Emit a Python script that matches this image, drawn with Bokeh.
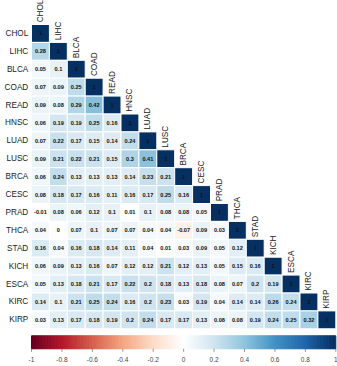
import numpy as np
from bokeh.plotting import figure
from bokeh.models import Range1d, ColumnDataSource
from bokeh.transform import linear_cmap
from bokeh.core.properties import value
from bokeh.embed import file_html
from bokeh.resources import INLINE

# Cancer types, in matrix order
labels = ["CHOL", "LIHC", "BLCA", "COAD", "READ", "HNSC", "LUAD", "LUSC",
          "BRCA", "CESC", "PRAD", "THCA", "STAD", "KICH", "ESCA", "KIRC", "KIRP"]

# Lower-triangle correlation rows (diagonal included)
r_chol = [1]
r_lihc = [0.28, 1]
r_blca = [0.05, 0.1, 1]
r_coad = [0.07, 0.09, 0.25, 1]
r_read = [0.09, 0.08, 0.29, 0.42, 1]
r_hnsc = [0.06, 0.19, 0.19, 0.25, 0.16, 1]
r_luad = [0.07, 0.22, 0.17, 0.15, 0.14, 0.24, 1]
r_lusc = [0.09, 0.21, 0.22, 0.21, 0.15, 0.3, 0.41, 1]
r_brca = [0.06, 0.24, 0.13, 0.13, 0.13, 0.14, 0.23, 0.21, 1]
r_cesc = [0.08, 0.18, 0.17, 0.16, 0.11, 0.16, 0.17, 0.25, 0.16, 1]
r_prad = [-0.01, 0.08, 0.06, 0.12, 0.1, 0.01, 0.1, 0.08, 0.08, 0.05, 1]
r_thca = [0.04, 0, 0.07, 0.1, 0.07, 0.07, 0.04, 0.04, -0.07, 0.09, 0.03, 1]
r_stad = [0.16, 0.04, 0.16, 0.18, 0.14, 0.11, 0.04, 0.01, 0.03, 0.09, 0.05, 0.12, 1]
r_kich = [0.06, 0.09, 0.13, 0.16, 0.07, 0.12, 0.12, 0.21, 0.12, 0.13, 0.05, 0.15, 0.16, 1]
r_esca = [0.05, 0.13, 0.18, 0.21, 0.17, 0.22, 0.2, 0.18, 0.13, 0.18, 0.08, 0.07, 0.2, 0.19, 1]
r_kirc = [0.14, 0.1, 0.21, 0.25, 0.24, 0.16, 0.2, 0.23, 0.03, 0.19, 0.04, 0.14, 0.14, 0.26, 0.24, 1]
r_kirp = [0.03, 0.13, 0.17, 0.18, 0.19, 0.2, 0.24, 0.17, 0.17, 0.13, 0.08, 0.08, 0.19, 0.24, 0.25, 0.32, 1]
rows = [r_chol, r_lihc, r_blca, r_coad, r_read, r_hnsc, r_luad, r_lusc, r_brca,
        r_cesc, r_prad, r_thca, r_stad, r_kich, r_esca, r_kirc, r_kirp]

# Colour legend ticks
legend_ticks = [-1, -0.8, -0.6, -0.4, -0.2, 0, 0.2, 0.4, 0.6, 0.8, 1]
legend_tick_labels = ["-1", "-0.8", "-0.6", "-0.4", "-0.2", "0", "0.2", "0.4", "0.6", "0.8", "1"]

# Diverging red-white-blue ramp (200 steps)
anchors = ["#67001F", "#B2182B", "#D6604D", "#F4A582", "#FDDBC7", "#FFFFFF",
           "#D1E5F0", "#92C5DE", "#4393C3", "#2166AC", "#053061"]


def ramp(cols, n):
    rgb = np.array([[int(c[i:i + 2], 16) for i in (1, 3, 5)] for c in cols], float)
    pos = np.linspace(0, 1, len(cols))
    t = np.linspace(0, 1, n)
    out = []
    for k in range(n):
        r = [np.interp(t[k], pos, rgb[:, j]) for j in range(3)]
        out.append("#%02x%02x%02x" % tuple(int(round(v)) for v in r))
    return out


palette = ramp(anchors, 200)

n = len(labels)
xs, ys, vals, txt = [], [], [], []
for i, row in enumerate(rows):
    for j, v in enumerate(row):
        xs.append(j)
        ys.append(i)
        vals.append(v)
        txt.append("%g" % v)
cells = ColumnDataSource(dict(x=xs, y=ys, val=vals, txt=txt))

cell_px = 17.9
left_px, top_px = 31.0, 24.0
W, H = 337, 366
x0 = -0.5 - left_px / cell_px
y0 = -0.5 - top_px / cell_px
p = figure(width=W, height=H, output_backend="svg", toolbar_location=None,
           x_range=Range1d(x0, x0 + W / cell_px),
           y_range=Range1d(y0 + H / cell_px, y0),
           min_border=0)
p.axis.visible = False
p.grid.visible = False
p.outline_line_color = None
p.background_fill_color = "white"
p.border_fill_color = "white"

cmap = linear_cmap("val", palette, -1, 1)
p.rect(x="x", y="y", width=1, height=1, source=cells,
       fill_color=cmap, line_color="white", line_width=1)
p.text(x="x", y="y", text="txt", source=cells, text_align="center",
       text_baseline="middle", text_font=value("Liberation Sans"),
       text_font_style="bold", text_font_size="5.6px", text_color="#111111")

# Row labels on the left
idx = list(range(n))
p.text(x=[-0.68] * n, y=idx, text=labels, text_align="right", text_baseline="middle",
       text_font=value("Liberation Sans"), text_font_size="8.2px", text_color="#222222")

# Column labels, rotated, above each diagonal cell
p.text(x=idx, y=[i - 0.62 for i in idx], text=labels, angle=np.pi / 2,
       text_align="left", text_baseline="middle",
       text_font=value("Liberation Sans"), text_font_size="8.2px", text_color="#222222")

# Colour legend bar along the bottom
lg_left, lg_right = -0.5, n - 0.5
lg_top, lg_bot = n - 0.5 + 7.0 / cell_px, n - 0.5 + 20.0 / cell_px
cb_vals = np.linspace(-1, 1, 201)
edges = lg_left + (cb_vals + 1) / 2 * (lg_right - lg_left)
mid = (cb_vals[:-1] + cb_vals[1:]) / 2
bar = ColumnDataSource(dict(left=edges[:-1], right=edges[1:], val=mid))
bar_cmap = linear_cmap("val", palette, -1, 1)
p.quad(left="left", right="right", top=lg_top, bottom=lg_bot, source=bar,
       fill_color=bar_cmap, line_color=bar_cmap, line_width=1)

tx = [lg_left + (t + 1) / 2 * (lg_right - lg_left) for t in legend_ticks]
p.segment(x0=tx, x1=tx, y0=[lg_bot] * len(tx), y1=[lg_bot + 3 / cell_px] * len(tx),
          line_color="#777777", line_width=0.8)
p.text(x=tx, y=[lg_bot + 11 / cell_px] * len(tx), text=legend_tick_labels,
       text_align="center", text_baseline="middle",
       text_font=value("Liberation Sans"), text_font_size="6.5px", text_color="#444444")

open("out.html", "w").write(file_html(p, INLINE))
